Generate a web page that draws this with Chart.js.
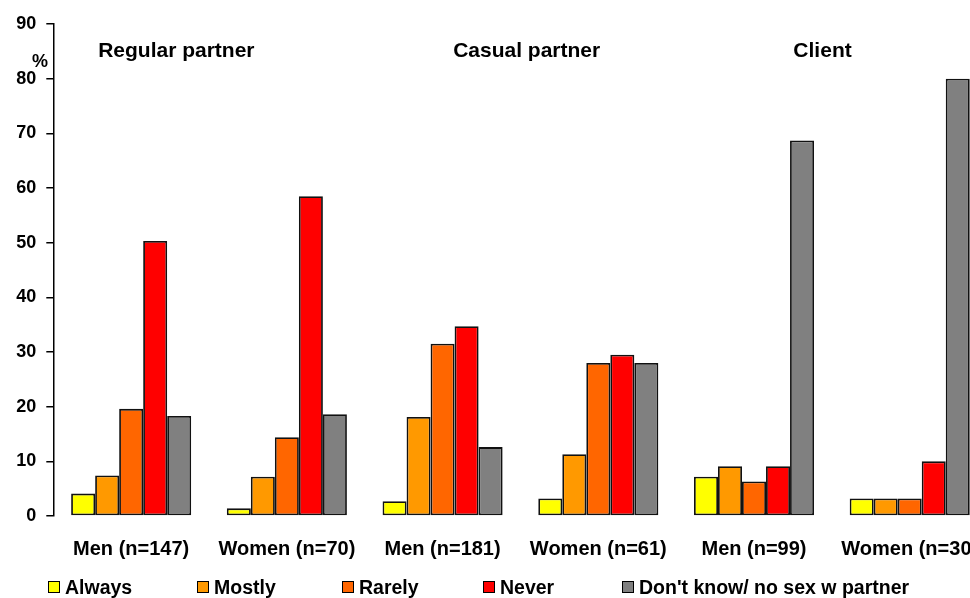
<!DOCTYPE html>
<html>
<head>
<meta charset="utf-8">
<script src="https://cdn.jsdelivr.net/npm/chart.js@4/dist/chart.umd.min.js"></script>
<style>
  html, body { margin: 0; padding: 0; background: #fff; overflow: hidden; }
  #wrap { width: 970px; height: 598px; overflow: hidden; position: relative; }
  canvas { display: block; }
</style>
</head>
<body>
<div id="wrap"><canvas id="c" width="1000" height="598"></canvas></div>
<script>
// Condom use by partner type (%), men and women
const categories = ['Men (n=147)', 'Women (n=70)', 'Men (n=181)', 'Women (n=61)', 'Men (n=99)', 'Women (n=30)'];
const seriesNames = ['Always', 'Mostly', 'Rarely', 'Never', "Don't know/ no sex w partner"];
const always   = [4.1, 1.4, 2.7, 3.2, 7.2, 3.2];
const mostly   = [7.4, 7.2, 18.1, 11.3, 9.1, 3.2];
const rarely   = [19.6, 14.4, 31.5, 28.0, 6.3, 3.2];
const never    = [50.3, 58.5, 34.7, 29.5, 9.1, 10.0];
const dontKnow = [18.3, 18.6, 12.6, 28.0, 68.7, 80.0];
const yTicks   = [0, 10, 20, 30, 40, 50, 60, 70, 80, 90];
const groupTitles = ['Regular partner', 'Casual partner', 'Client'];
const unitLabel = '%';

const colors = ['#FFFF00', '#FF9900', '#FF6600', '#FF0000', '#808080'];
const seriesValues = [always, mostly, rarely, never, dontKnow];

const FONT = "'Liberation Sans', Arial, Helvetica, sans-serif";
Chart.defaults.font.family = FONT;
Chart.defaults.color = '#000';

const datasets = seriesValues.map((vals, i) => ({
  label: seriesNames[i],
  data: vals,
  backgroundColor: colors[i],
  borderColor: '#111',
  borderWidth: 1.8,
  borderSkipped: false,
  categoryPercentage: 0.771,
  barPercentage: 1.0
}));

// Group headings, "%" unit label and the column-style legend
const annotations = {
  id: 'annotations',
  afterDraw(chart) {
    const { ctx, scales: { x, y } } = chart;
    const step = x.getPixelForValue(1) - x.getPixelForValue(0);
    const x0 = x.getPixelForValue(0);
    ctx.save();
    ctx.fillStyle = '#000';
    ctx.textBaseline = 'alphabetic';

    // headings over each pair of groups
    const titlePos = [0.29, 2.54, 4.44];
    ctx.font = `bold 21px ${FONT}`;
    ctx.textAlign = 'center';
    groupTitles.forEach((t, i) => {
      ctx.fillText(t, x0 + titlePos[i] * step, y.getPixelForValue(84));
    });

    // unit label beside the y axis
    ctx.font = `bold 18px ${FONT}`;
    ctx.fillText(unitLabel, 40, 67);

    // legend
    const legendX = [48, 197, 342, 483, 622];
    ctx.font = `bold 19.5px ${FONT}`;
    ctx.textAlign = 'left';
    seriesNames.forEach((name, i) => {
      const bx = legendX[i];
      ctx.fillStyle = colors[i];
      ctx.fillRect(bx, 581, 12, 12);
      ctx.strokeStyle = '#000';
      ctx.lineWidth = 1;
      ctx.strokeRect(bx + 0.5, 581.5, 11, 11);
      ctx.fillStyle = '#000';
      ctx.fillText(name, bx + 17, 594);
    });
    ctx.restore();
  }
};

new Chart(document.getElementById('c'), {
  type: 'bar',
  data: { labels: categories, datasets },
  options: {
    responsive: false,
    animation: false,
    devicePixelRatio: 1,
    layout: { padding: { left: 0, right: 10, top: 24, bottom: 0 } },
    plugins: {
      legend: { display: false },
      tooltip: { enabled: false }
    },
    scales: {
      x: {
        grid: { display: false, drawTicks: false },
        border: { display: false },
        ticks: {
          padding: 21,
          maxRotation: 0,
          autoSkip: false,
          color: '#000',
          font: { size: 20, weight: 'bold' }
        },
        afterFit(scale) { scale.height = 82; }
      },
      y: {
        min: 0,
        max: 90,
        afterBuildTicks(scale) { scale.ticks = yTicks.map(v => ({ value: v })); },
        grid: {
          drawOnChartArea: false,
          drawTicks: true,
          tickLength: 7,
          color: '#000',
          lineWidth: 1.5
        },
        border: { display: true, color: '#000', width: 1.5 },
        ticks: {
          padding: 10,
          color: '#000',
          font: { size: 18, weight: 'bold' }
        },
        afterFit(scale) { scale.width = 53.3; }
      }
    }
  },
  plugins: [annotations]
});
</script>
</body>
</html>
